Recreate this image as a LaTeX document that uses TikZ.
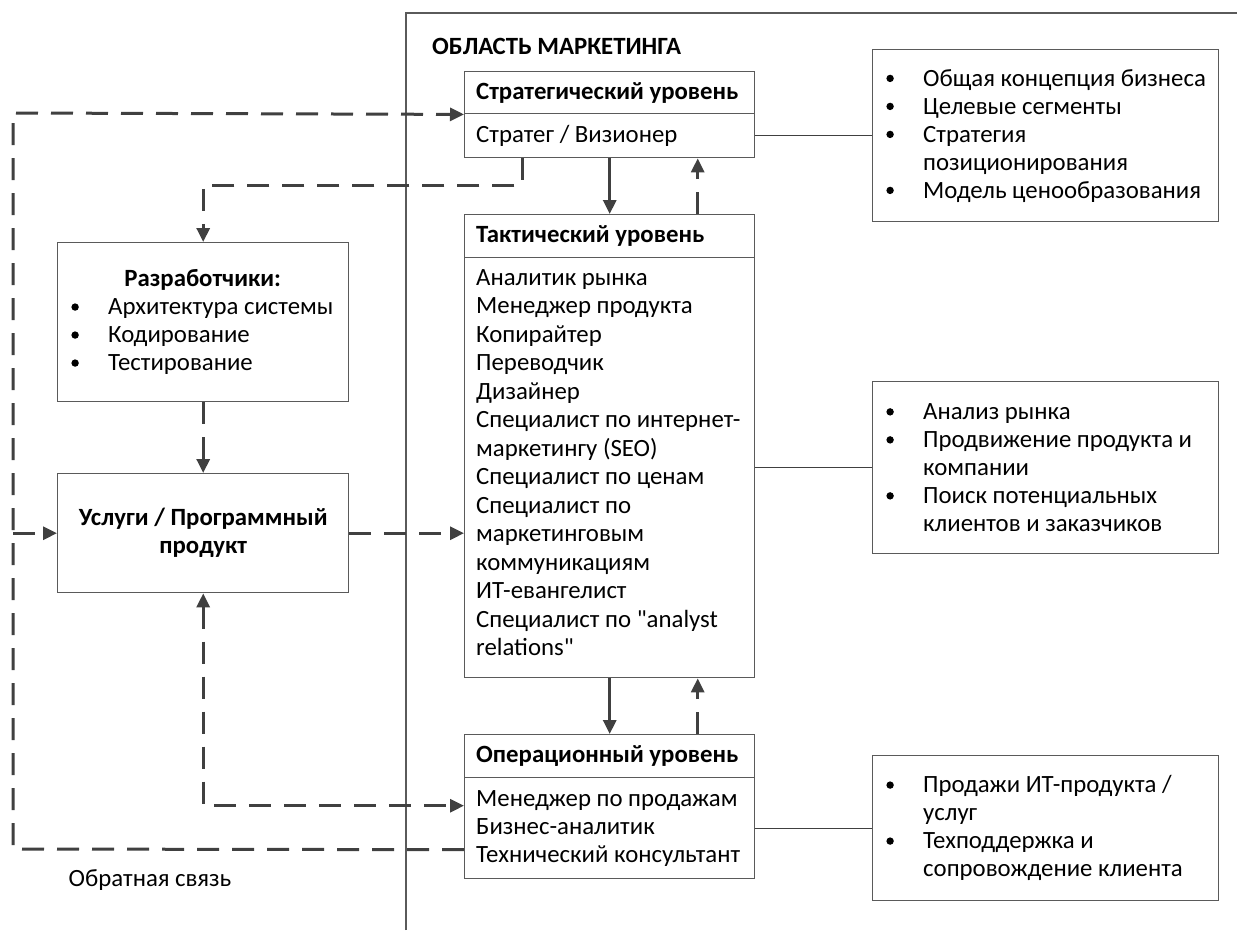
\documentclass[tikz,border=0pt]{standalone}
\usepackage{fontspec}
\setmainfont{Carlito}
\newfontfamily\qf{Carlito}
\usetikzlibrary{arrows.meta,calc}
\definecolor{ln}{HTML}{404040}
\definecolor{bx}{HTML}{5A5A5A}
\newcommand\myb{\makebox[33pt][l]{\hspace*{-3.8pt}\raisebox{4pt}{\tikz\fill[black] (0pt,0pt) circle (3.7pt);}}}
\newcommand\myi{\hspace*{33pt}}
\newcommand\sq{{\qf"}}
\begin{document}
\begin{tikzpicture}[x=1pt,y=-1pt,
 box/.style={draw=bx,line width=1.4pt,inner sep=0pt,anchor=north west},
 txt/.style={inner sep=0pt,align=left,font=\fontsize{24.8}{28}\selectfont},
 btxt/.style={inner sep=0pt,align=left,font=\fontsize{24.8}{28}\selectfont\bfseries},
 conn/.style={draw=ln,line width=3pt},
 dsh/.style={conn,dash pattern=on 22pt off 13pt},
 tip/.style={-{Triangle[length=14pt,width=13pt]}},
 thinl/.style={draw=ln,line width=1.4pt}]
\fill[white] (0,0) rectangle (1237,930);
\useasboundingbox (0,0) rectangle (1237,930);
% marketing area frame
\draw[thinl,draw=bx] (406,930) -- (406,13) -- (1237,13);
\node[btxt,anchor=west] (title) at (432,46) {ОБЛАСТЬ МАРКЕТИНГА};
% boxes
\node[box,minimum width=290pt,minimum height=42pt] (sh) at (464,71) {};
\node[box,minimum width=290pt,minimum height=44pt] (sb) at (464,113) {};
\node[box,minimum width=290pt,minimum height=43pt] (th) at (464,214) {};
\node[box,minimum width=290pt,minimum height=420pt] (tb) at (464,257) {};
\node[box,minimum width=290pt,minimum height=43pt] (oh) at (464,734) {};
\node[box,minimum width=290pt,minimum height=101pt] (ob) at (464,777) {};
\node[box,minimum width=291pt,minimum height=159pt] (dev) at (57,242) {};
\node[box,minimum width=291pt,minimum height=119pt] (srv) at (57,473) {};
\node[box,minimum width=346pt,minimum height=172pt] (r1) at (872,49) {};
\node[box,minimum width=346pt,minimum height=172pt] (r2) at (872,381) {};
\node[box,minimum width=346pt,minimum height=145pt] (r3) at (872,755) {};
% texts
\node[btxt,anchor=west] (sht) at ([xshift=12pt]sh.west) {Стратегический уровень};
\node[txt,anchor=west] (sbt) at ([xshift=12pt]sb.west) {Стратег / Визионер};
\node[btxt,anchor=west] (tht) at ([xshift=12pt]th.west) {Тактический уровень};
\node[txt,anchor=north west,font=\fontsize{24.8}{28.5}\selectfont] (tbt) at ([xshift=12pt,yshift=-12pt]tb.north west)
 {Аналитик рынка\\Менеджер продукта\\Копирайтер\\Переводчик\\Дизайнер\\Специалист по интернет-\\маркетингу (SEO)\\Специалист по ценам\\Специалист по\\маркетинговым\\коммуникациям\\ИТ-евангелист\\Специалист по \sq analyst\\relations\sq};
\node[btxt,anchor=west] (oht) at ([xshift=12pt]oh.west) {Операционный уровень};
\node[txt,anchor=west] (obt) at ([xshift=12pt]ob.west) {Менеджер по продажам\\Бизнес-аналитик\\Технический консультант};
\node[txt,anchor=west] (devt) at ([xshift=18pt]dev.west)
 {\makebox[255pt][c]{\bfseries Разработчики:}\\\myb Архитектура системы\\\myb Кодирование\\\myb Тестирование};
\node[btxt,align=center] (srvt) at (srv.center) {Услуги / Программный\\продукт};
\node[txt,anchor=west] (r1t) at ([xshift=18pt]r1.west)
 {\myb Общая концепция бизнеса\\\myb Целевые сегменты\\\myb Стратегия\\\myi позиционирования\\\myb Модель ценообразования};
\node[txt,anchor=west] (r2t) at ([xshift=18pt]r2.west)
 {\myb Анализ рынка\\\myb Продвижение продукта и\\\myi компании\\\myb Поиск потенциальных\\\myi клиентов и заказчиков};
\node[txt,anchor=west] (r3t) at ([xshift=18pt]r3.west)
 {\myb Продажи ИТ-продукта /\\\myi услуг\\\myb Техподдержка и\\\myi сопровождение клиента};
\node[txt] (fb) at (150,880) {Обратная связь};
% connectors
\draw[conn,tip] (sb.south) -- (th.north);
\draw[dsh,tip] ([xshift=88pt]th.north) -- ([xshift=88pt]sb.south);
\draw[conn,tip] (tb.south) -- (oh.north);
\draw[dsh,tip] ([xshift=88pt]oh.north) -- ([xshift=88pt]tb.south);
\draw[thinl] (sb.east) -- (r1.west);
\draw[thinl] (tb.east) -- (r2.west);
\draw[thinl] (ob.east) -- (r3.west);
\draw[dsh,tip] ([xshift=-87pt]sb.south) |- ([yshift=57pt]dev.north) -- (dev.north);
\draw[dsh,tip] (dev.south) -- (srv.north);
\draw[dsh,tip] (srv.east) -- (srv.east -| tb.west);
\coordinate (fbb) at (13,849);
\coordinate (fbt) at (13,113);
\draw[dsh,tip] ([yshift=-21.5pt]ob.west) -- (fbb) -- (fbt) -- (sh.south west);
\draw[dsh,tip] (fbb |- srv.west) -- (srv.west);
\draw[dsh,{Triangle[length=14pt,width=13pt]}-{Triangle[length=14pt,width=13pt]}] (srv.south) |- ([yshift=22.5pt]ob.west);
\end{tikzpicture}
\end{document}
